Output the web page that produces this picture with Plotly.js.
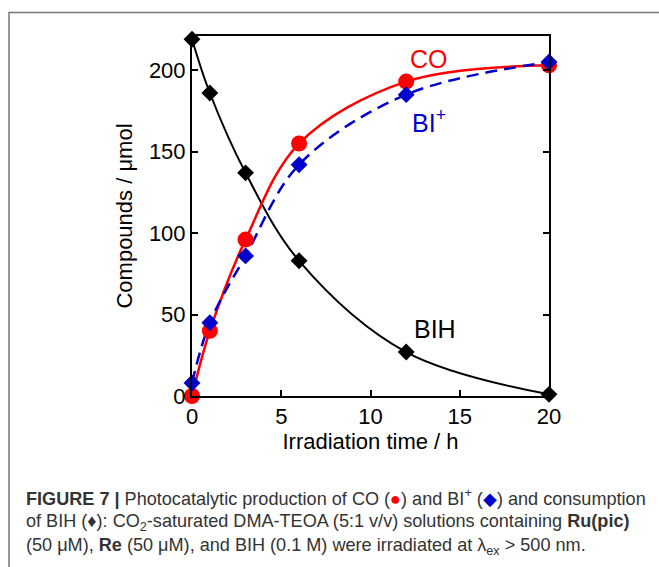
<!DOCTYPE html>
<html>
<head>
<meta charset="utf-8">
<script src="https://cdn.plot.ly/plotly-3.0.1.min.js"></script>
<style>
  html, body { margin: 0; padding: 0; background: #fff; }
  #chart { width: 659px; height: 567px; }
</style>
</head>
<body>
<div id="chart"></div>
<script>
// Irradiation time (h)
const timeH = [0, 1, 3, 6, 12, 20];
// Amounts (µmol)
const bihValues = [219, 186, 137, 83, 27, 1];
const coValues = [0, 40, 96, 155, 193, 203];
const biPlusValues = [8, 45, 86, 142, 185, 205];

const xTicks = [0, 5, 10, 15, 20];
const yTicks = [0, 50, 100, 150, 200];

const seriesLabels = ['BIH', 'CO', 'BI<sup>+</sup>'];

const captionLines = [
  '<b>FIGURE 7 |</b> Photocatalytic production of CO (<span style="color:#ff0000">●</span>) and BI<sup>+</sup> (<span style="color:#0000cc">◆</span>) and consumption',
  'of BIH (♦): CO<sub>2</sub>-saturated DMA-TEOA (5:1 v/v) solutions containing <b>Ru(pic)</b>',
  '(50 μM), <b>Re</b> (50 μM), and BIH (0.1 M) were irradiated at λ<sub>ex</sub> > 500 nm.'
];

const font = 'Liberation Sans, Arial, sans-serif';

const traces = [
  { x: timeH, y: bihValues, mode: 'lines', line: { color: '#000000', width: 2, shape: 'spline', smoothing: 1 }, hoverinfo: 'skip', cliponaxis: false },
  { x: timeH, y: coValues, mode: 'lines', line: { color: '#ff0000', width: 2.5, shape: 'spline', smoothing: 1 }, hoverinfo: 'skip', cliponaxis: false },
  { x: timeH, y: biPlusValues, mode: 'lines', line: { color: '#0000cc', width: 2.5, shape: 'spline', smoothing: 1, dash: '12px,7px' }, hoverinfo: 'skip', cliponaxis: false },
  { x: timeH, y: bihValues, mode: 'markers', name: 'BIH', marker: { symbol: 'diamond', size: 13, color: '#000000' }, cliponaxis: false },
  { x: timeH, y: coValues, mode: 'markers', name: 'CO', marker: { symbol: 'circle', size: 16, color: '#ff0000' }, cliponaxis: false },
  { x: timeH, y: biPlusValues, mode: 'markers', name: 'BI+', marker: { symbol: 'diamond', size: 13, color: '#0000cc' }, cliponaxis: false }
];

const annotations = [
  { x: 13.3, y: 207, xref: 'x', yref: 'y', text: seriesLabels[1], showarrow: false, font: { family: font, size: 25, color: '#ff0000' }, xanchor: 'center', yanchor: 'middle' },
  { x: 12.2, y: 169, xref: 'x', yref: 'y', text: seriesLabels[2], showarrow: false, font: { family: font, size: 25, color: '#0000cc' }, xanchor: 'left', yanchor: 'middle' },
  { x: 13.6, y: 41, xref: 'x', yref: 'y', text: seriesLabels[0], showarrow: false, font: { family: font, size: 25, color: '#000000' }, xanchor: 'center', yanchor: 'middle' }
];
const capY = [-0.283, -0.3525, -0.417];
captionLines.forEach((t, i) => {
  annotations.push({ x: -0.471, y: capY[i], xref: 'paper', yref: 'paper', text: t, showarrow: false, xanchor: 'left', yanchor: 'middle', align: 'left', font: { family: font, size: 18.1, color: '#333333' } });
});

const layout = {
  width: 659, height: 567,
  margin: { l: 192, r: 110, t: 36, b: 171 },
  paper_bgcolor: '#ffffff', plot_bgcolor: '#ffffff',
  showlegend: false,
  font: { family: font, color: '#000000' },
  xaxis: {
    range: [0, 20], tickvals: xTicks, ticktext: xTicks.map(String),
    ticks: 'inside', ticklen: 6, tickwidth: 2, tickcolor: '#000',
    showline: true, linewidth: 2, linecolor: '#000', mirror: true,
    showgrid: false, zeroline: false,
    tickfont: { family: font, size: 22, color: '#000' },
    title: { text: 'Irradiation time / h', font: { family: font, size: 22, color: '#000' }, standoff: 4 }
  },
  yaxis: {
    range: [0, 221], tickvals: yTicks, ticktext: yTicks.map(String),
    ticks: 'inside', ticklen: 6, tickwidth: 2, tickcolor: '#000',
    showline: true, linewidth: 2, linecolor: '#000', mirror: 'ticks',
    showgrid: false, zeroline: false,
    tickfont: { family: font, size: 22, color: '#000' },
    title: { text: 'Compounds / μmol', font: { family: font, size: 22, color: '#000' }, standoff: 10 }
  },
  annotations: annotations,
  shapes: [
    { type: 'path', xref: 'paper', yref: 'paper', path: 'M -0.5126,-0.6 L -0.5126,1.0653 L 2,1.0653', line: { color: '#777777', width: 1.5 } }
  ]
};

Plotly.newPlot('chart', traces, layout, { staticPlot: true, displayModeBar: false });
</script>
</body>
</html>
